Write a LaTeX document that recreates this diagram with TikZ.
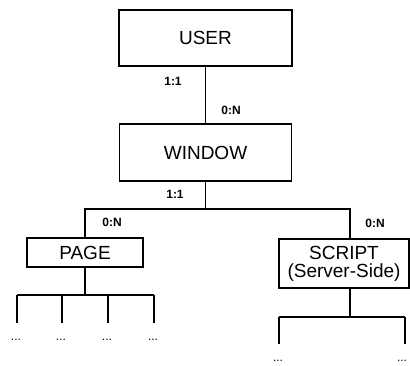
\documentclass[tikz,border=0pt]{standalone}
\RequirePackage{fontspec}
\setmainfont{Liberation Sans}
\RequirePackage{tikz}
\usetikzlibrary{calc}

\tikzset{
    entity/.style={draw,line width=1.4pt,rectangle,inner sep=0pt,align=center,
        font=\fontsize{19}{18}\selectfont},
    card/.style={inner sep=0pt,font=\fontsize{12}{12}\selectfont\bfseries},
    more/.style={inner sep=0pt,font=\fontsize{12}{12}\selectfont},
    link/.style={line width=1.2pt}
}

\begin{document}
\begin{tikzpicture}[x=1pt,y=-1pt]
                    \useasboundingbox (0,0) rectangle (410,365);

                    \node[entity,minimum width=173pt,minimum height=56pt] (user) at (205.5,38) {USER};
                    \node[entity,minimum width=172pt,minimum height=57pt] (window) at (205.5,152.5) {WINDOW};
                    \node[entity,minimum width=116pt,minimum height=29pt] (page) at (85,252.5) {PAGE};
                    \node[entity,minimum width=130pt,minimum height=49pt] (script) at (344,263.5) {SCRIPT\\(Server-Side)};

                    \draw[link] (user) -- (window);

                    \coordinate (fork) at (205.5,209);
                    \coordinate (sdrop) at (350,209);

                    \draw[link] (window) -- (fork);
                    \draw[link] (page.north) |- (sdrop) -- (sdrop |- script.north);

                    \node[card] (uw1) at (173,81) {1:1};
                    \node[card] (uw2) at (231,110) {0:N};
                    \node[card] (wp1) at (175,194) {1:1};
                    \node[card] (wp2) at (112,222) {0:N};
                    \node[card] (ws2) at (375,223) {0:N};

                    \coordinate (pfork) at (85,295);
                    \draw[link] (page) -- (pfork);
                    \draw[link] (17,295) coordinate (pl) -- (154,295) coordinate (pr);
                    \foreach \x/\n in {17/a,62/b,108/c,154/d}{
                        \coordinate (p\n) at (\x,295);
                        \coordinate (q\n) at (\x,323);
                        \draw[link] (p\n) -- (q\n);
                        \node[more] (dp\n) at (\x-1,340) {...};
                    }

                    \coordinate (sfork) at (350,317);
                    \draw[link] (script.south -| sfork) -- (sfork);
                    \draw[link] (279,317) coordinate (sl) -- (405,317) coordinate (sr);
                    \foreach \x/\n/\d in {279/a/278,405/b/402}{
                        \coordinate (s\n) at (\x,317);
                        \coordinate (t\n) at (\x,344);
                        \draw[link] (s\n) -- (t\n);
                        \node[more] (ds\n) at (\d,361) {...};
                    }
\end{tikzpicture}
\end{document}
